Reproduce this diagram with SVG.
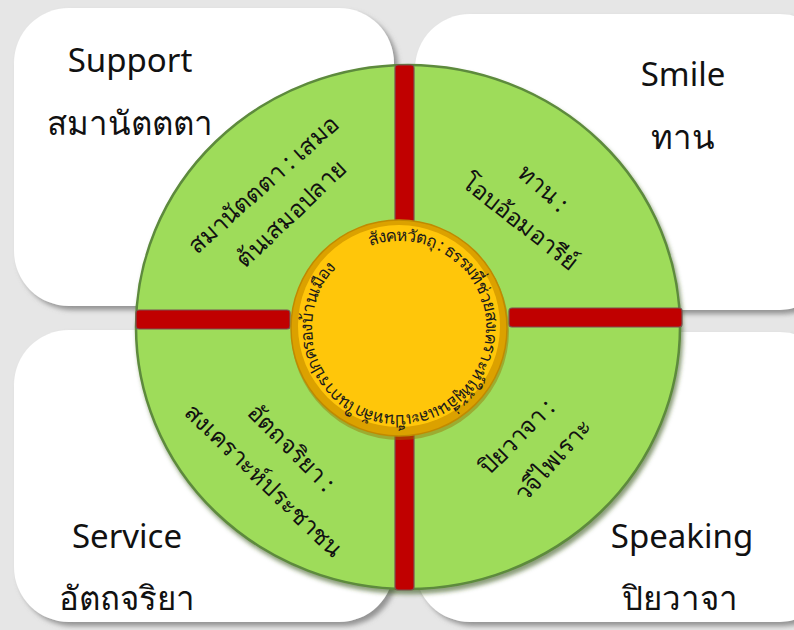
<svg xmlns="http://www.w3.org/2000/svg" width="794" height="630" viewBox="0 0 794 630">
<defs>
<style>
.box{fill:#ffffff;filter:url(#sh);}
.bar{fill:#c00000;stroke:#7a5050;stroke-width:1.2;}
.big{font-family:"Noto Sans","DejaVu Sans",sans-serif;font-size:33px;fill:#111;text-anchor:middle;}
.q{font-family:"Noto Sans","DejaVu Sans",sans-serif;font-size:24px;fill:#111;text-anchor:middle;}
.c{font-family:"Noto Sans","DejaVu Sans",sans-serif;font-size:17px;fill:#1a1a1a;}
</style>
<filter id="sh" x="-10%" y="-10%" width="125%" height="125%">
<feDropShadow dx="4" dy="4" stdDeviation="2.5" flood-color="#707070" flood-opacity="0.7"/>
</filter>
<filter id="sh2" x="-10%" y="-10%" width="125%" height="125%">
<feDropShadow dx="2" dy="4" stdDeviation="2" flood-color="#3a5a20" flood-opacity="0.6"/>
</filter>
<path id="ring" d="M 399 241 A 87 87 0 1 1 398.9 241"/>
</defs>
<rect x="0" y="0" width="794" height="630" fill="#e6e6e6"/>
<g id="box-support"><rect class="box" x="14" y="8" width="380" height="298" rx="55"/>
<text class="big" x="130" y="72">Support</text>
<text class="big" x="130" y="135">สมานัตตตา</text></g>
<g id="box-smile"><rect class="box" x="415" y="14" width="420" height="296" rx="55"/>
<text class="big" x="683" y="86">Smile</text>
<text class="big" x="683" y="149">ทาน</text></g>
<g id="box-service"><rect class="box" x="14" y="330" width="380" height="292" rx="55"/>
<text class="big" x="127" y="548">Service</text>
<text class="big" x="127" y="610">อัตถจริยา</text></g>
<g id="box-speaking"><rect class="box" x="415" y="332" width="420" height="290" rx="55"/>
<text class="big" x="682" y="548">Speaking</text>
<text class="big" x="680" y="610">ปิยวาจา</text></g>
<g id="wheel">
<ellipse cx="408" cy="327" rx="272" ry="262" fill="#9edc5a" stroke="#5d8a3c" stroke-width="2.5" filter="url(#sh2)"/>
</g>
<g id="connectors">
<rect class="bar" x="395" y="65" width="19" height="158" rx="3"/>
<rect class="bar" x="395" y="430" width="19" height="160" rx="3"/>
<rect class="bar" x="136" y="310" width="154" height="19" rx="3"/>
<rect class="bar" x="509" y="308" width="173" height="19" rx="3"/>
</g>
<g id="q-support"><g transform="translate(263 185) rotate(-42)"><text class="q" x="0" y="8">สมานัตตตา : เสมอ</text></g>
<g transform="translate(291 214) rotate(-44)"><text class="q" x="0" y="8">ต้นเสมอปลาย</text></g></g>
<g id="q-smile"><g transform="translate(543 188) rotate(42)"><text class="q" x="0" y="8">ทาน :</text></g>
<g transform="translate(520 222) rotate(38)"><text class="q" x="0" y="8">โอบอ้อมอารีย์</text></g></g>
<g id="q-service"><g transform="translate(291 448) rotate(45)"><text class="q" x="0" y="8">อัตถจริยา :</text></g>
<g transform="translate(263 480) rotate(44)"><text class="q" x="0" y="8">สงเคราะห์ประชาชน</text></g></g>
<g id="q-speaking"><g transform="translate(517 437) rotate(-45)"><text class="q" x="0" y="8">ปิยวาจา :</text></g>
<g transform="translate(553 460) rotate(-48)"><text class="q" x="0" y="8">วจีไพเราะ</text></g></g>
<g id="center">
<circle cx="400" cy="331" r="109" fill="#9a7000" opacity="0.45"/>
<circle cx="399" cy="328" r="108" fill="#dba100" stroke="#c08a00" stroke-width="1.5"/>
<circle cx="399" cy="326" r="101" fill="#ffc60a"/>
<text class="c" transform="rotate(-20 399 328)"><textPath href="#ring" startOffset="0" textLength="505" lengthAdjust="spacing">สังคหวัตถุ : ธรรมที่ช่วยสงเคราะห์ให้ผู้อื่นและเป็นหลักในการปกครองบ้านเมือง</textPath></text>
</g>
</svg>
